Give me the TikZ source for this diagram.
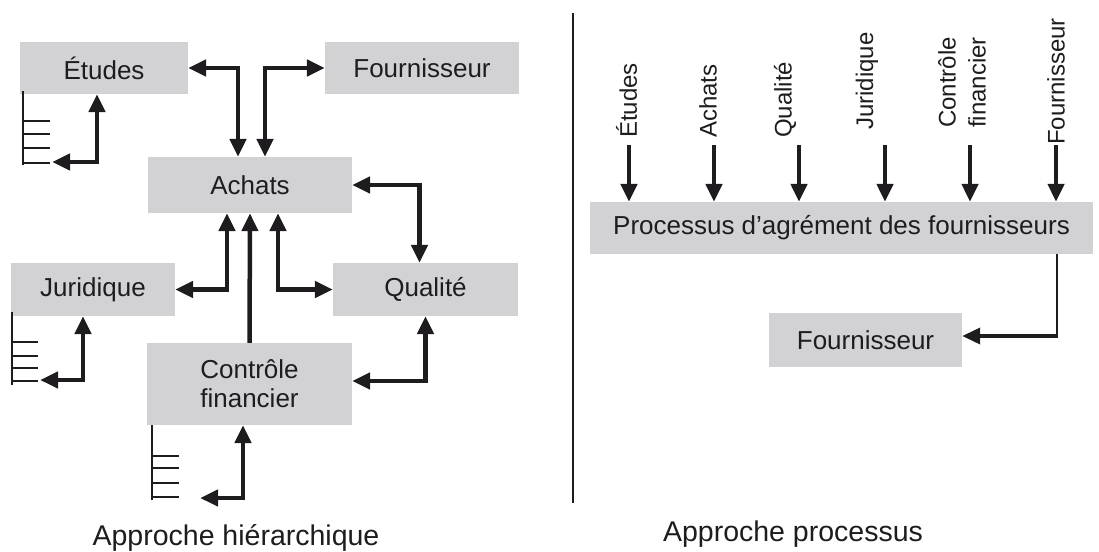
\documentclass[tikz,border=0pt]{standalone}
\usepackage{fontspec}
\setmainfont{Liberation Sans}
\usetikzlibrary{arrows.meta,calc}
\definecolor{boxgray}{RGB}{210,210,212}
\definecolor{ink}{RGB}{30,28,30}
\begin{document}
\begin{tikzpicture}[x=1pt,y=-1pt,
  box/.style={fill=boxgray, inner sep=0pt, text=ink, align=center,
    font=\fontsize{26}{29}\selectfont},
  tip/.tip={Triangle[length=18pt,width=16pt]},
  link/.style={draw=ink, line width=4.5pt, line join=miter},
  both/.style={link, tip-tip},
  single/.style={link, -tip},
  thinline/.style={draw=ink, line width=1.3pt},
  vlabel/.style={rotate=90, anchor=west, inner sep=0pt, text=ink, align=left,
    font=\fontsize{24}{30}\selectfont},
  caption/.style={anchor=base, inner sep=0pt, text=ink,
    font=\fontsize{28.5}{32}\selectfont}]
\useasboundingbox (0,0) rectangle (1099,551);

% ---------- hierarchical organisation ----------
\node[box, minimum width=168pt, minimum height=52pt] (etudes) at (104,68) {Études};
\node[box, minimum width=194pt, minimum height=52pt] (fournA) at (422,68) {Fournisseur};
\node[box, minimum width=204pt, minimum height=56pt] (achats) at (250,185) {Achats};
\node[box, minimum width=164pt, minimum height=53pt] (jurid) at (93,289.5) {Juridique};
\node[box, minimum width=185pt, minimum height=53pt] (qual) at (425.5,289.5) {Qualité};
\node[box, minimum width=205pt, minimum height=82pt] (ctrl) at (249.5,384) {Contrôle\\financier};

% exchanges with Achats
\draw[both] (etudes.east) -| ($(achats.north)+(-12,0)$);
\draw[both] (fournA.west) -| ($(achats.north)+(15,0)$);
\draw[both] (achats.east) -| ($(qual.north)+(-6,0)$);
\draw[both] (jurid.east) -| ($(achats.south)+(-23,0)$);
\draw[single] (ctrl.north) -- (achats.south);
\draw[both] ($(achats.south)+(28,0)$) |- (qual.west);
\draw[both] (qual.south) |- ($(ctrl.east)+(0,-3)$);

% internal hierarchy of each department
\coordinate (etudesEnd) at (52,162);
\coordinate (juridEnd) at (40,380);
\coordinate (ctrlEnd) at (200,498);
\draw[both] ($(etudes.south)+(-7,0)$) |- (etudesEnd);
\draw[both] ($(jurid.south)+(-10,0)$) |- (juridEnd);
\draw[both] ($(ctrl.south)+(-6.5,0)$) |- (ctrlEnd);

% small organisation charts
\draw[thinline] (23,91) -- (23,165)
  (23,121) -- (50,121) (23,134) -- (50,134) (23,148) -- (50,148) (23,163) -- (50,163);
\draw[thinline] (12,312) -- (12,385)
  (12,342) -- (38,342) (12,356) -- (38,356) (12,368) -- (38,368) (12,381) -- (38,381);
\draw[thinline] (152,425) -- (152,500)
  (152,456) -- (179,456) (152,468) -- (179,468) (152,483) -- (179,483) (152,497) -- (179,497);

% ---------- separator ----------
\draw[draw=ink, line width=1.8pt] (573,13) -- (573,503);

% ---------- process organisation ----------
\node[box, minimum width=503pt, minimum height=52pt] (proc) at (841.5,228)
  {Processus d’agrément des fournisseurs};
\node[box, minimum width=193pt, minimum height=54pt] (fournB) at (865.5,340) {Fournisseur};

\node[vlabel] (lE) at (626.5,138) {Études};
\node[vlabel] (lA) at (708,138) {Achats};
\node[vlabel] (lQ) at (785,138) {Qualité};
\node[vlabel] (lJ) at (867,130) {Juridique};
\node[vlabel] (lC) at (962,128) {Contrôle\\financier};
\node[vlabel] (lF) at (1056,145) {Fournisseur};

\coordinate (sE) at (629,145);
\coordinate (sA) at (714,145);
\coordinate (sQ) at (799,145);
\coordinate (sJ) at (885,145);
\coordinate (sC) at (970,145);
\coordinate (sF) at (1056,145);
\foreach \s in {sE,sA,sQ,sJ,sC,sF}
  \draw[single] (\s) -- (\s |- proc.north);

\coordinate (pOut) at (1057,254);
\coordinate (pTurn) at (1057,336);
\draw[thinline] (pOut) -- (pTurn);
\draw[single, line width=3.5pt] ([xshift=0.7pt]pTurn) -- (pTurn -| fournB.east);

% ---------- captions ----------
\node[caption] (capH) at (236,545) {Approche hiérarchique};
\node[caption] (capP) at (793,541) {Approche processus};
\end{tikzpicture}
\end{document}
